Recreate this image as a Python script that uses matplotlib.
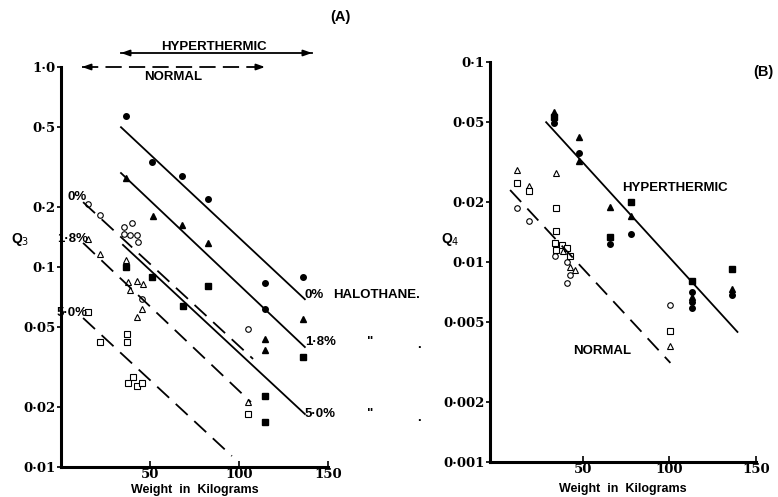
import matplotlib
matplotlib.use("Agg")
import matplotlib.pyplot as plt

# ---------------- panel A data (weight kg, Q3) ----------------
hyp0_w = [36.5, 51, 68, 82.6, 114.6, 136, 114.6]
hyp0_q = [0.569, 0.335, 0.285, 0.219, 0.083, 0.089, 0.062]
hyp18_w = [36.5, 51.7, 68, 82.6, 136, 114.6, 114.6]
hyp18_q = [0.28, 0.18, 0.162, 0.132, 0.055, 0.0437, 0.0385]
hyp50_w = [36.5, 51, 82.6, 68.5, 136, 114.6, 114.6]
hyp50_q = [0.1, 0.089, 0.080, 0.064, 0.0355, 0.0226, 0.0168]

nor0_w = [15.2, 21.9, 35.4, 39.9, 35.4, 38.8, 42.7, 43.3, 45.5, 105]
nor0_q = [0.207, 0.182, 0.158, 0.166, 0.146, 0.145, 0.145, 0.133, 0.069, 0.049]
nor18_w = [15.2, 21.9, 36.5, 37.6, 42.7, 46, 38.8, 45.5, 42.7, 105]
nor18_q = [0.138, 0.116, 0.108, 0.084, 0.085, 0.082, 0.077, 0.062, 0.056, 0.0211]
nor50_w = [15.2, 21.9, 37, 37, 37.6, 40.4, 42.7, 45.5, 105]
nor50_q = [0.0596, 0.042, 0.046, 0.042, 0.0263, 0.0282, 0.0254, 0.0263, 0.0184]

# fitted lines (end points)
lineA_hyp = {"0": ([33.7, 137], [0.5, 0.069]),
             "1.8": ([33.7, 137], [0.295, 0.0398]),
             "5.0": ([34.8, 137], [0.129, 0.0184])}
lineA_nor = {"0": ([12.4, 107.9], [0.211, 0.0347]),
             "1.8": ([12.4, 106.7], [0.132, 0.0211]),
             "5.0": ([12.4, 96], [0.0556, 0.01135])}

yticksA = [0.01, 0.02, 0.05, 0.1, 0.2, 0.5, 1.0]
yticklabA = ["0·01", "0·02", "0·05", "0·1", "0·2", "0·5", "1·0"]

# ---------------- panel B data (weight kg, Q4) ----------------
hypB_circ_w = [33.5, 48, 66, 78, 113.3, 113.3, 113.3, 136]
hypB_circ_q = [0.0495, 0.035, 0.0123, 0.0138, 0.00708, 0.0063, 0.00588, 0.0068]
hypB_tri_w = [33.5, 48, 48, 66, 78, 113.3, 136]
hypB_tri_q = [0.0562, 0.042, 0.032, 0.0188, 0.017, 0.00667, 0.0073]
hypB_sq_w = [33.5, 66, 78, 113.3, 136]
hypB_sq_q = [0.053, 0.0133, 0.02, 0.008, 0.0092]

norB_circ_w = [12, 19, 34.1, 41, 42.8, 41, 100.6]
norB_circ_q = [0.0186, 0.016, 0.0107, 0.01, 0.0086, 0.00785, 0.0061]
norB_tri_w = [12, 19, 34.7, 38.7, 42.8, 45.7, 100.6]
norB_tri_q = [0.029, 0.024, 0.0279, 0.0113, 0.0094, 0.0091, 0.0038]
norB_sq_w = [12, 19, 34.7, 34.7, 34.1, 34.7, 38.2, 41, 42.8, 100.6]
norB_sq_q = [0.0248, 0.0227, 0.0186, 0.0143, 0.01245, 0.0115, 0.0122, 0.0117, 0.0107, 0.00452]

lineB_hyp = ([28.9, 139.3], [0.05, 0.00447])
lineB_nor = ([8.1, 100.6], [0.0229, 0.00313])

yticksB = [0.001, 0.002, 0.005, 0.01, 0.02, 0.05, 0.1]
yticklabB = ["0·001", "0·002", "0·005", "0·01", "0·02", "0·05", "0·1"]

xticks = [50, 100, 150]

SANS = "Liberation Sans"
NUM = "DejaVu Serif"
dash = (0, (9, 5))

fig = plt.figure(figsize=(7.78, 4.97), dpi=100)
axA = fig.add_axes([61 / 778, 1 - 467 / 497, 267 / 778, 400 / 497])
axB = fig.add_axes([490 / 778, 1 - 462 / 497, 266 / 778, 400 / 497])


def style(ax, yt, ylab):
    ax.set_yscale("log")
    ax.set_yticks(yt)
    ax.set_yticklabels(ylab)
    ax.minorticks_off()
    ax.set_xticks(xticks)
    ax.set_xticklabels([str(t) for t in xticks])
    for s in ["top", "right"]:
        ax.spines[s].set_visible(False)
    ax.spines["left"].set_linewidth(2.2)
    ax.spines["bottom"].set_linewidth(2.2)
    ax.tick_params(axis="y", direction="out", length=3, width=1.2, pad=1)
    ax.tick_params(axis="x", direction="in", length=4, width=1.2, pad=1)
    for lab in ax.get_xticklabels() + ax.get_yticklabels():
        lab.set_fontfamily(NUM)
        lab.set_fontweight("bold")
        lab.set_fontsize(9.5)


# ---------- panel A ----------
style(axA, yticksA, yticklabA)
axA.set_xlim(0, 150)
axA.set_ylim(0.01, 1.0)

ms = 4
axA.plot(hyp0_w, hyp0_q, "o", color="k", ms=ms, ls="none")
axA.plot(hyp18_w, hyp18_q, "^", color="k", ms=ms, ls="none")
axA.plot(hyp50_w, hyp50_q, "s", color="k", ms=ms, ls="none")
axA.plot(nor0_w, nor0_q, "o", mfc="white", mec="k", mew=0.8, ms=ms, ls="none")
axA.plot(nor18_w, nor18_q, "^", mfc="white", mec="k", mew=0.8, ms=ms, ls="none")
axA.plot(nor50_w, nor50_q, "s", mfc="white", mec="k", mew=0.8, ms=ms, ls="none")

for k in lineA_hyp:
    xs, ys = lineA_hyp[k]
    axA.plot(xs, ys, color="k", lw=1.3)
    xs, ys = lineA_nor[k]
    axA.plot(xs, ys, color="k", lw=1.3, ls=dash)

tkw = dict(fontfamily=SANS, fontweight="bold", fontsize=9.5, va="center")
axA.text(9, 0.224, "0%", ha="center", **tkw)
axA.text(6.7, 0.138, "1·8%", ha="center", **tkw)
axA.text(6.2, 0.059, "5·0%", ha="center", **tkw)

axA.text(137, 0.0724, "0%", ha="left", **tkw)
axA.text(153, 0.0724, "HALOTHANE.", ha="left", **tkw)
axA.text(137, 0.0422, "1·8%", ha="left", **tkw)
axA.text(137, 0.0184, "5·0%", ha="left", **tkw)
for q in [0.0422, 0.0184]:
    axA.text(173.5, q, '"', ha="center", **tkw)
    axA.text(201, q * 0.96, ".", ha="center", **tkw)

# range arrows above panel A
hyp_rng = [33.7, 141]
nor_rng = [11.8, 114.6]
axA.plot(hyp_rng, [1.175, 1.175], color="k", lw=1.3, clip_on=False)
axA.plot(nor_rng, [1.0, 1.0], color="k", lw=1.3, ls=(0, (9, 4)), clip_on=False)
for (a, b), yy in [(hyp_rng, 1.175), (nor_rng, 1.0)]:
    for end, start in [(a, a + 5), (b, b - 5)]:
        axA.annotate("", xy=(end, yy), xytext=(start, yy),
                     arrowprops=dict(arrowstyle="-|>,head_length=0.5,head_width=0.18",
                                     color="k", lw=1.3, shrinkA=0, shrinkB=0),
                     annotation_clip=False)
axA.text(86, 1.26, "HYPERTHERMIC", ha="center", fontfamily=SANS,
         fontweight="bold", fontsize=9.5, va="center")
axA.text(63, 0.89, "NORMAL", ha="center", fontfamily=SANS,
         fontweight="bold", fontsize=9.5, va="center")

# ---------- panel B ----------
style(axB, yticksB, yticklabB)
axB.set_xlim(-3.5, 150)
axB.set_ylim(0.001, 0.1)

axB.plot(hypB_circ_w, hypB_circ_q, "o", color="k", ms=ms, ls="none")
axB.plot(hypB_tri_w, hypB_tri_q, "^", color="k", ms=ms, ls="none")
axB.plot(hypB_sq_w, hypB_sq_q, "s", color="k", ms=ms, ls="none")
axB.plot(norB_circ_w, norB_circ_q, "o", mfc="white", mec="k", mew=0.8, ms=ms, ls="none")
axB.plot(norB_tri_w, norB_tri_q, "^", mfc="white", mec="k", mew=0.8, ms=ms, ls="none")
axB.plot(norB_sq_w, norB_sq_q, "s", mfc="white", mec="k", mew=0.8, ms=ms, ls="none")

axB.plot(*lineB_hyp, color="k", lw=1.3)
axB.plot(*lineB_nor, color="k", lw=1.3, ls=dash)

axB.text(103, 0.0235, "HYPERTHERMIC", ha="center", fontfamily=SANS,
         fontweight="bold", fontsize=9.5, va="center")
axB.text(61.5, 0.0036, "NORMAL", ha="center", fontfamily=SANS,
         fontweight="bold", fontsize=9.5, va="center")

# ---------- figure labels ----------
lab = dict(fontfamily=SANS, fontweight="bold", ha="center", va="center")
fig.text(340 / 778, 1 - 17 / 497, "(A)", fontsize=10.5, **lab)
fig.text(763 / 778, 1 - 72 / 497, "(B)", fontsize=10.5, **lab)
fig.text(20 / 778, 1 - 240 / 497, "Q$_3$", fontsize=10, **lab)
fig.text(450 / 778, 1 - 240 / 497, "Q$_4$", fontsize=10, **lab)
fig.text(195 / 778, 1 - 490 / 497, "Weight  in  Kilograms", fontsize=9, **lab)
fig.text(623 / 778, 1 - 489 / 497, "Weight  in  Kilograms", fontsize=9, **lab)

fig.savefig("out.png", dpi=100)
